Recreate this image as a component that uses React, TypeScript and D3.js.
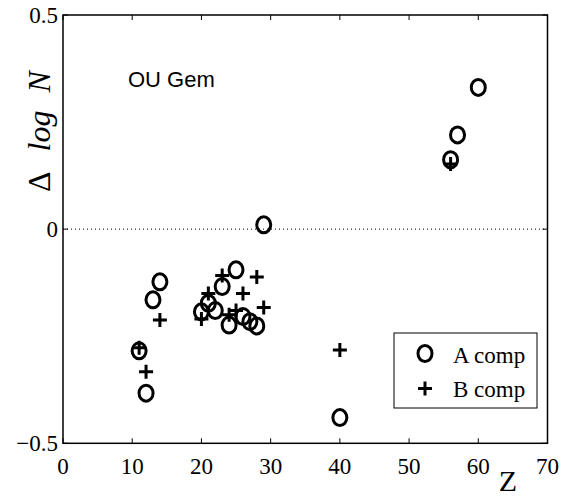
import * as d3 from "d3";
import { useEffect, useRef } from "react";

// Z (atomic number) and delta log N, A and B components
const zA = [11, 12, 13, 14, 20, 21, 22, 23, 24, 25, 26, 27, 28, 29, 40, 56, 57, 60];
const dA = [-0.284, -0.383, -0.165, -0.123, -0.193, -0.173, -0.19, -0.134, -0.224, -0.095, -0.204, -0.216, -0.226, 0.01, -0.44, 0.162, 0.22, 0.331];
const zB = [11, 12, 14, 20, 21, 23, 24, 25, 26, 28, 29, 40, 56];
const dB = [-0.277, -0.333, -0.212, -0.21, -0.15, -0.108, -0.2, -0.19, -0.15, -0.112, -0.183, -0.282, 0.152];

const xTicks = [0, 10, 20, 30, 40, 50, 60, 70];
const yTicks = [-0.5, 0, 0.5];
const yTickLabels = ["\u22120.5", "0", "0.5"];
const legendLabels = ["A comp", "B comp"];
const starName = "OU Gem";

const W = 573;
const H = 497;

export default function App() {
	const ref = useRef<SVGSVGElement>(null);

	useEffect(() => {
		const svg = d3.select(ref.current);
		svg.selectAll("*").remove();

		const left = 63, right = 547.5, top = 15, bottom = 443.3;
		const x = d3.scaleLinear().domain([0, 70]).range([left, right]);
		const y = d3.scaleLinear().domain([-0.5, 0.5]).range([bottom, top]);
		const serif = "'Liberation Serif', 'Times New Roman', serif";

		svg.append("rect").attr("width", W).attr("height", H).attr("fill", "#fff");

		// zero line
		svg.append("line")
			.attr("x1", x(0)).attr("x2", x(70))
			.attr("y1", y(0)).attr("y2", y(0))
			.attr("stroke", "#000").attr("stroke-width", 1)
			.attr("stroke-dasharray", "1,3");

		// box
		svg.append("rect")
			.attr("x", left).attr("y", top)
			.attr("width", right - left).attr("height", bottom - top)
			.attr("fill", "none").attr("stroke", "#000").attr("stroke-width", 1.5);

		const tl = 5;
		xTicks.forEach((t) => {
			svg.append("line").attr("x1", x(t)).attr("x2", x(t)).attr("y1", bottom).attr("y2", bottom - tl).attr("stroke", "#000");
			svg.append("line").attr("x1", x(t)).attr("x2", x(t)).attr("y1", top).attr("y2", top + tl).attr("stroke", "#000");
			svg.append("text")
				.attr("x", x(t)).attr("y", bottom + 31)
				.attr("text-anchor", "middle")
				.attr("font-family", serif).attr("font-size", 23)
				.text(t);
		});
		yTicks.forEach((t, i) => {
			svg.append("line").attr("x1", left).attr("x2", left + tl).attr("y1", y(t)).attr("y2", y(t)).attr("stroke", "#000");
			svg.append("line").attr("x1", right).attr("x2", right - tl).attr("y1", y(t)).attr("y2", y(t)).attr("stroke", "#000");
			svg.append("text")
				.attr("x", left - 5).attr("y", y(t) + 8)
				.attr("text-anchor", "end")
				.attr("font-family", serif).attr("font-size", 23)
				.text(yTickLabels[i]);
		});

		// axis labels
		svg.append("text")
			.attr("x", 508).attr("y", 491)
			.attr("text-anchor", "middle")
			.attr("font-family", serif).attr("font-size", 30)
			.text("Z");

		const yl = svg.append("text")
			.attr("transform", "translate(50,192) rotate(-90)")
			.attr("font-family", serif).attr("font-size", 32);
		yl.append("tspan").text("\u0394");
		yl.append("tspan").attr("dx", 20).attr("font-style", "italic").text("log");
		yl.append("tspan").attr("dx", 18).attr("font-style", "italic").text("N");

		svg.append("text")
			.attr("x", 128).attr("y", 86.5)
			.attr("font-family", "'Liberation Sans', Arial, sans-serif").attr("font-size", 22)
			.text(starName);

		const circle = (g: any, cx: number, cy: number) =>
			g.append("ellipse")
				.attr("cx", cx).attr("cy", cy).attr("rx", 7).attr("ry", 8)
				.attr("fill", "none").attr("stroke", "#000").attr("stroke-width", 3);
		const plus = (g: any, cx: number, cy: number) =>
			g.append("path")
				.attr("d", `M${cx - 7},${cy}H${cx + 7}M${cx},${cy - 7}V${cy + 7}`)
				.attr("stroke", "#000").attr("stroke-width", 3).attr("fill", "none");

		const pts = svg.append("g");
		zA.forEach((z, i) => circle(pts, x(z), y(dA[i])));
		zB.forEach((z, i) => plus(pts, x(z), y(dB[i])));

		// legend
		const lg = svg.append("g");
		lg.append("rect")
			.attr("x", 394).attr("y", 333).attr("width", 143).attr("height", 75)
			.attr("fill", "#fff").attr("stroke", "#000").attr("stroke-width", 1);
		circle(lg, 425, 353.5);
		plus(lg, 425, 388.5);
		legendLabels.forEach((s, i) => {
			lg.append("text")
				.attr("x", 453).attr("y", 363 + i * 34)
				.attr("font-family", serif).attr("font-size", 23)
				.text(s);
		});
	}, []);

	return (
		<svg
			ref={ref}
			width={W}
			height={H}
			style={{ position: "absolute", left: 0, top: 0 }}
		/>
	);
}
